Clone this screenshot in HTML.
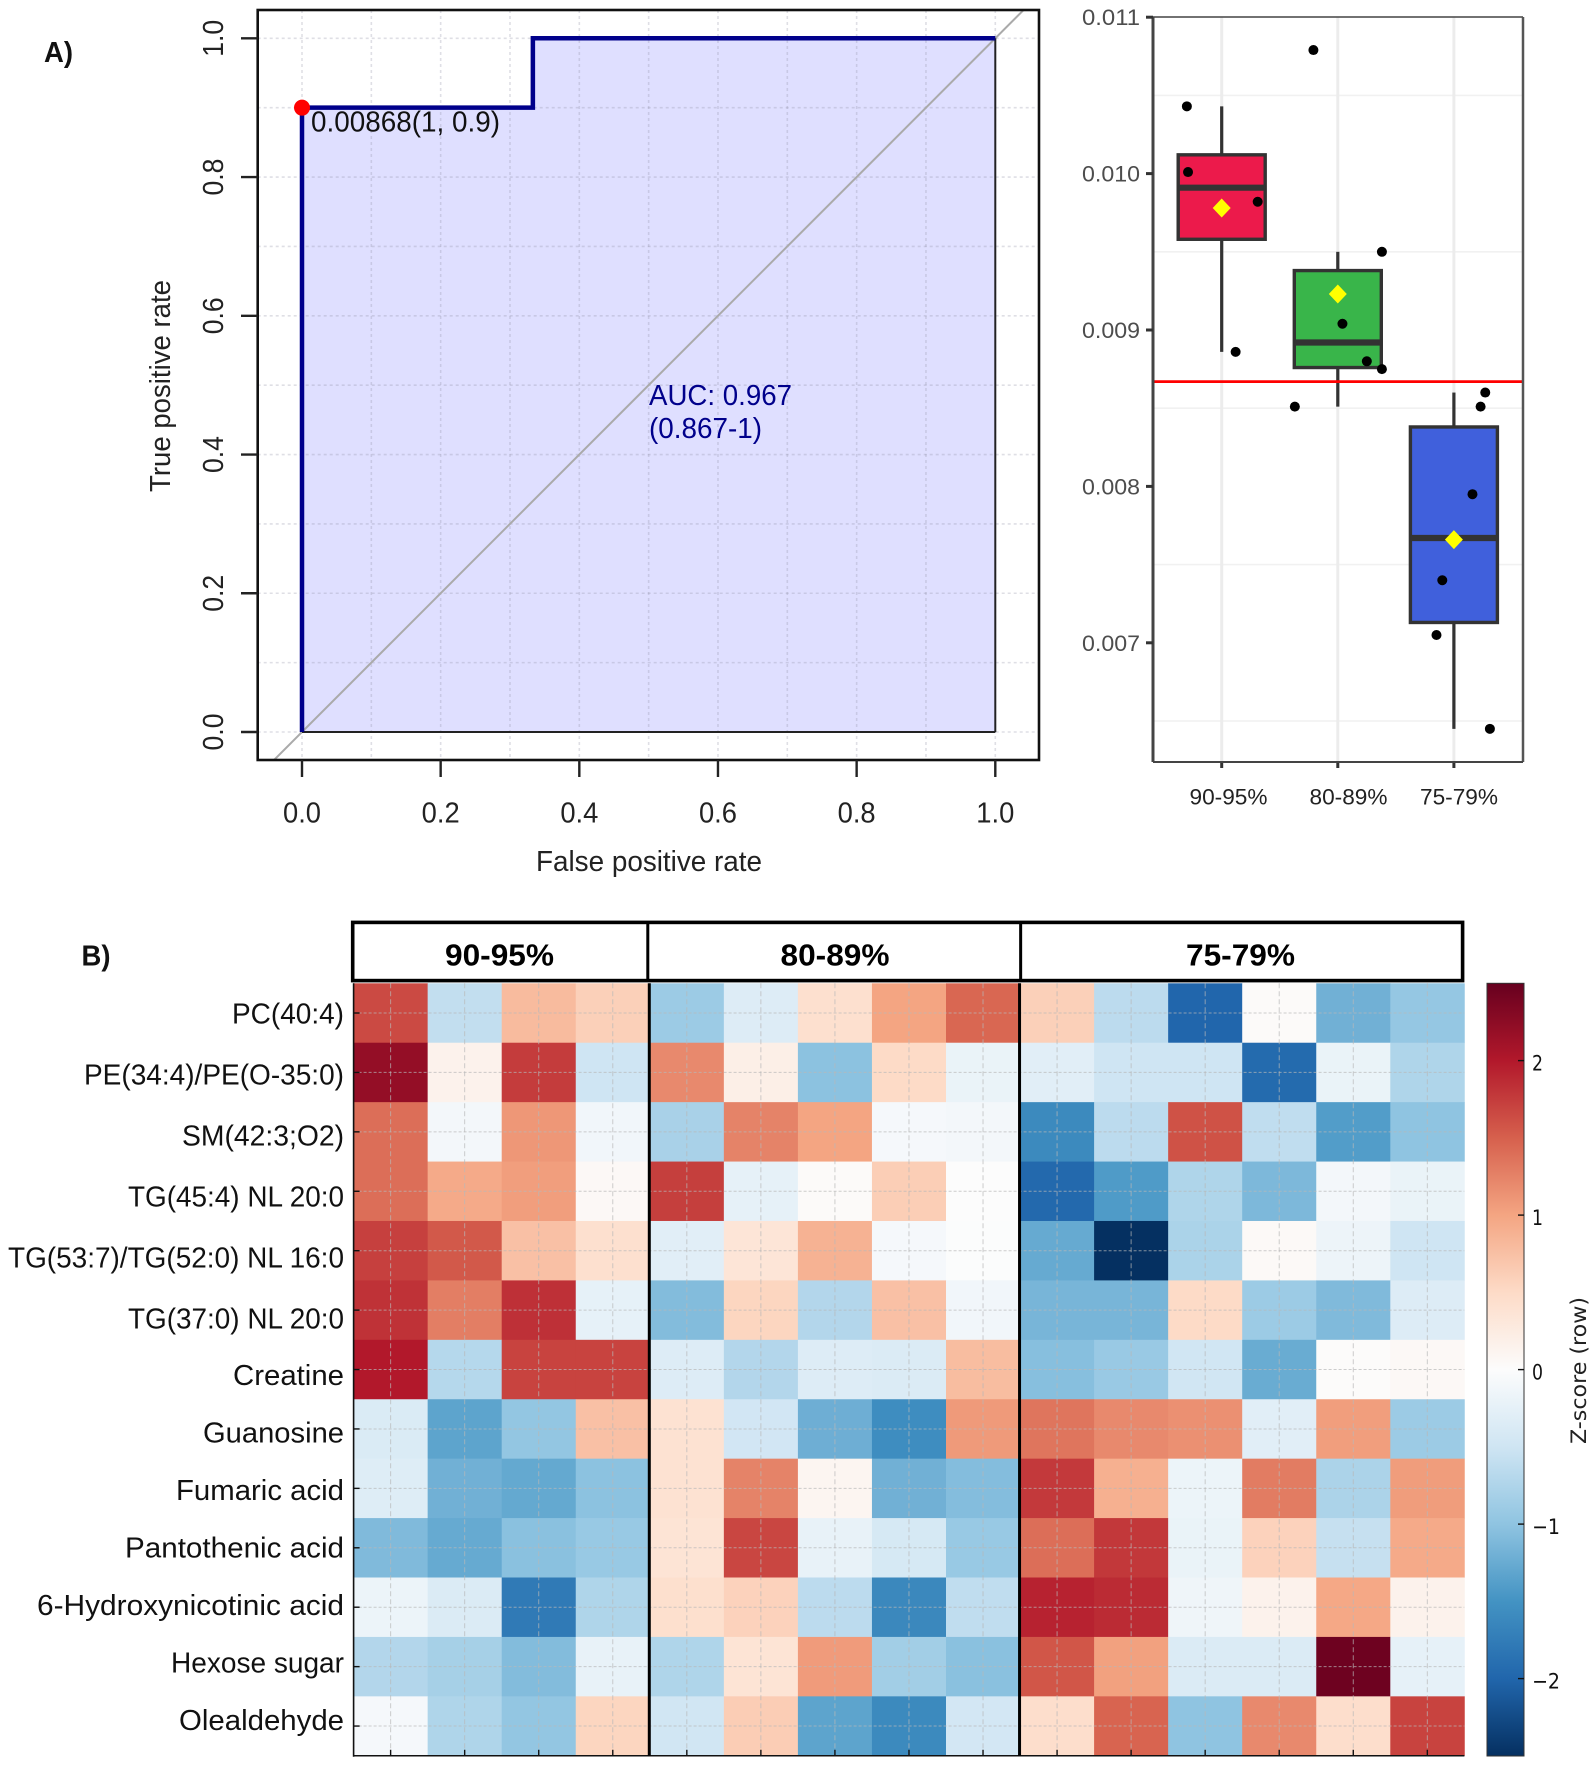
<!DOCTYPE html>
<html lang="en">
<head>
<meta charset="utf-8">
<title>ROC, box plot and heatmap figure</title>
<style>
html,body{margin:0;padding:0;background:#fff;}
svg{display:block;}
text{font-family:"Liberation Sans",sans-serif;}
</style>
</head>
<body>
<svg id="figure" xmlns="http://www.w3.org/2000/svg" width="1595" height="1765" viewBox="0 0 1595 1765">
<defs>
<clipPath id="roc-clip"><rect x="257.7" y="10" width="781.3" height="750"/></clipPath>
<linearGradient id="rdbu-gradient" x1="0" y1="1" x2="0" y2="0"></linearGradient>
</defs>
<rect width="1595" height="1765" fill="#fff"/>
<g id="roc"></g>
<g id="box"></g>
<g id="heat"></g>
</svg>
<script>
// ---------- ROC data ----------
const rocFpr = [0, 0, 0.333, 0.333, 1];
const rocTpr = [0, 0.9, 0.9, 1, 1];
const rocTicks = [0, 0.2, 0.4, 0.6, 0.8, 1];
const rocTickLabels = ['0.0', '0.2', '0.4', '0.6', '0.8', '1.0'];
const rocGrid = [0, 0.1, 0.2, 0.3, 0.4, 0.5, 0.6, 0.7, 0.8, 0.9, 1];
const rocBestFpr = 0;
const rocBestTpr = 0.9;

// ---------- Box plot data ----------
const boxGroups = ['90-95%', '80-89%', '75-79%'];
const boxQ1 = [0.00958, 0.00876, 0.00713];
const boxMedian = [0.00991, 0.00892, 0.00767];
const boxQ3 = [0.01012, 0.00938, 0.00838];
const boxLow = [0.00886, 0.00851, 0.00645];
const boxHigh = [0.01043, 0.00950, 0.00860];
const boxMean = [0.00978, 0.00923, 0.00766];
const boxFills = ['#ec1a4b', '#39b54a', '#4060dc'];
const boxPointValues = [
  [0.01043, 0.01001, 0.00982, 0.00886],
  [0.01079, 0.00950, 0.00904, 0.00880, 0.00875, 0.00851],
  [0.00860, 0.00851, 0.00795, 0.00740, 0.00705, 0.00645]
];
const boxPointJitter = [
  [-0.30, -0.29, 0.31, 0.12],
  [-0.21, 0.38, 0.04, 0.25, 0.38, -0.37],
  [0.27, 0.23, 0.16, -0.10, -0.15, 0.31]
];
const boxThreshold = 0.00867;
const boxTicks = [0.011, 0.010, 0.009, 0.008, 0.007];
const boxTickLabels = ['0.011', '0.010', '0.009', '0.008', '0.007'];
const boxMinorGrid = [0.0105, 0.0095, 0.0085, 0.0075, 0.0065];

// ---------- Heatmap data ----------
const heatRows = ['PC(40:4)', 'PE(34:4)/PE(O-35:0)', 'SM(42:3;O2)', 'TG(45:4) NL 20:0', 'TG(53:7)/TG(52:0) NL 16:0', 'TG(37:0) NL 20:0', 'Creatine', 'Guanosine', 'Fumaric acid', 'Pantothenic acid', '6-Hydroxynicotinic acid', 'Hexose sugar', 'Olealdehyde'];
const heatRowLabelWidths = [112, 260, 162, 216, 336, 216, 111, 141, 168, 219, 307, 173, 165];
const heatGroups = ['90-95%', '80-89%', '75-79%'];
const heatGroupSizes = [4, 5, 6];
const heatValues = [
  [1.65, -0.6, 0.8, 0.6, -0.9, -0.35, 0.42, 1.0, 1.45, 0.6, -0.65, -2.0, 0.03, -1.2, -0.95],
  [2.2, 0.15, 1.75, -0.5, 1.2, 0.2, -1.02, 0.5, -0.2, -0.3, -0.5, -0.5, -1.95, -0.2, -0.75],
  [1.4, -0.1, 1.1, -0.12, -0.8, 1.25, 1.0, -0.08, -0.1, -1.6, -0.65, 1.6, -0.62, -1.4, -1.0],
  [1.4, 0.95, 1.05, 0.06, 1.73, -0.25, 0.03, 0.62, 0, -1.97, -1.42, -0.75, -1.12, -0.1, -0.2],
  [1.72, 1.55, 0.75, 0.42, -0.3, 0.35, 0.88, -0.08, -0.01, -1.27, -2.5, -0.78, 0.05, -0.17, -0.5],
  [1.82, 1.28, 1.83, -0.25, -1.08, 0.55, -0.72, 0.75, -0.12, -1.15, -1.15, 0.5, -0.9, -1.1, -0.35],
  [2.0, -0.7, 1.7, 1.7, -0.35, -0.72, -0.35, -0.37, 0.78, -1.05, -0.92, -0.48, -1.25, 0.02, 0.06],
  [-0.38, -1.33, -0.97, 0.75, 0.4, -0.47, -1.22, -1.57, 1.08, 1.35, 1.2, 1.15, -0.3, 1.05, -0.9],
  [-0.33, -1.2, -1.28, -1.02, 0.4, 1.25, 0.1, -1.2, -1.07, 1.77, 0.9, -0.18, 1.3, -0.77, 1.06],
  [-1.1, -1.27, -1.03, -0.93, 0.37, 1.68, -0.22, -0.42, -0.93, 1.4, 1.78, -0.2, 0.58, -0.57, 0.95],
  [-0.18, -0.37, -1.78, -0.75, 0.43, 0.58, -0.65, -1.62, -0.62, 1.93, 1.87, -0.15, 0.15, 0.97, 0.15],
  [-0.72, -0.82, -1.08, -0.22, -0.75, 0.37, 1.07, -0.85, -1.03, 1.57, 1.03, -0.37, -0.37, 2.45, -0.25],
  [-0.08, -0.75, -0.97, 0.55, -0.48, 0.63, -1.33, -1.6, -0.45, 0.45, 1.47, -1.0, 1.2, 0.45, 1.7]
];
const cbarTicks = [2, 1, 0, -1, -2];
const cbarTickLabels = ['2', '1', '0', '\u22121', '\u22122'];
const rdbuColors = ['#053061', '#2166ac', '#4393c3', '#8fc4e1', '#cfe5f3', '#fcfcfc', '#fddbc7', '#f4a582', '#d6604d', '#b2182b', '#67001f'];
const heatMax = 2.5;

// ---------- Helpers ----------
const NS = 'http://www.w3.org/2000/svg';
function mk(tag, parent, attrs) {
  const el = document.createElementNS(NS, tag);
  for (const k in attrs) el.setAttribute(k, attrs[k]);
  parent.appendChild(el);
  return el;
}
function txt(parent, str, x, y, size, opts) {
  const o = opts || {};
  const attrs = { x: x, y: y, 'font-size': size, fill: o.fill || '#111' };
  attrs['text-anchor'] = o.anchor || 'start';
  if (o.weight) attrs['font-weight'] = o.weight;
  if (o.family) attrs['style'] = 'font-family:' + o.family;
  if (o.len) { attrs['textLength'] = o.len; attrs['lengthAdjust'] = 'spacingAndGlyphs'; }
  if (o.rotate) attrs['transform'] = 'rotate(' + o.rotate + ' ' + x + ' ' + y + ')';
  const el = mk('text', parent, attrs);
  el.textContent = str;
  return el;
}
function hexRgb(h) { return [parseInt(h.slice(1, 3), 16), parseInt(h.slice(3, 5), 16), parseInt(h.slice(5, 7), 16)]; }
function heatColor(v) {
  const t = Math.max(0, Math.min(1, (v + heatMax) / (2 * heatMax))) * (rdbuColors.length - 1);
  const i = Math.min(rdbuColors.length - 2, Math.floor(t));
  const f = t - i;
  const a = hexRgb(rdbuColors[i]);
  const b = hexRgb(rdbuColors[i + 1]);
  return 'rgb(' + [0, 1, 2].map(function (k) { return Math.round(a[k] + (b[k] - a[k]) * f); }).join(',') + ')';
}

// ---------- ROC panel ----------
(function () {
  const root = document.getElementById('roc');
  const X = function (v) { return 302 + v * 693.3; };
  const Y = function (v) { return 732 - v * 693.7; };
  const boxL = 257.7, boxR = 1039, boxT = 10, boxB = 760;

  const panelLabel = txt(root, 'A)', 44, 62, 29, { weight: 'bold', fill: '#111', len: 29 });
  
  

  let pts = X(rocFpr[rocFpr.length - 1]) + ',' + Y(0) + ' ' + X(0) + ',' + Y(0);
  rocFpr.forEach(function (f, i) { pts += ' ' + X(f) + ',' + Y(rocTpr[i]); });
  const area = mk('polygon', root, { points: pts, fill: '#dfdfff' });
  
  

  rocGrid.forEach(function (g) {
    const v = mk('line', root, { x1: X(g), x2: X(g), y1: boxT, y2: boxB, stroke: 'rgb(150,150,170)', 'stroke-opacity': 0.3, 'stroke-width': 1.6, 'stroke-dasharray': '3 3' });
    
    
    const h = mk('line', root, { x1: boxL, x2: boxR, y1: Y(g), y2: Y(g), stroke: 'rgb(150,150,170)', 'stroke-opacity': 0.3, 'stroke-width': 1.6, 'stroke-dasharray': '3 3' });
    
    
  });

  const diag = mk('line', root, { x1: X(-0.1), y1: Y(-0.1), x2: X(1.1), y2: Y(1.1), stroke: '#aaa', 'stroke-width': 2, 'clip-path': 'url(#roc-clip)' });
  
  

  const right = mk('line', root, { x1: X(1), x2: X(1), y1: Y(1), y2: Y(0), stroke: '#222', 'stroke-width': 2 });
  
  
  const bottom = mk('line', root, { x1: X(0), x2: X(1), y1: Y(0), y2: Y(0), stroke: '#222', 'stroke-width': 2 });
  
  

  const curvePts = rocFpr.map(function (f, i) { return X(f) + ',' + Y(rocTpr[i]); }).join(' ');
  const curve = mk('polyline', root, { points: curvePts, fill: 'none', stroke: '#00008b', 'stroke-width': 4.5 });
  
  

  const best = mk('circle', root, { cx: X(rocBestFpr), cy: Y(rocBestTpr), r: 8, fill: '#ff0000' });
  
  

  const frame = mk('rect', root, { x: boxL, y: boxT, width: boxR - boxL, height: boxB - boxT, fill: 'none', stroke: '#111', 'stroke-width': 2.6 });
  
  

  rocTicks.forEach(function (t, i) {
    const xt = mk('line', root, { x1: X(t), x2: X(t), y1: boxB, y2: 777, stroke: '#222', 'stroke-width': 2.4 });
    
    
    const xl = txt(root, rocTickLabels[i], X(t), 822.7, 29, { anchor: 'middle', len: 38, fill: '#222' });
    
    
    const yt = mk('line', root, { x1: 241, x2: boxL, y1: Y(t), y2: Y(t), stroke: '#222', 'stroke-width': 2.4 });
    
    
    const yl = txt(root, rocTickLabels[i], 223, Y(t), 29, { anchor: 'middle', len: 37, rotate: -90, fill: '#222' });
    
    
  });

  const xTitle = txt(root, 'False positive rate', 649, 871, 28.5, { anchor: 'middle', len: 226, fill: '#222' });
  
  
  const yTitle = txt(root, 'True positive rate', 170, 386, 28.5, { anchor: 'middle', len: 212, rotate: -90, fill: '#222' });
  
  

  const bestLabel = txt(root, '0.00868(1, 0.9)', 311, 131.7, 28.5, { len: 189, fill: '#111' });
  
  
  const auc1 = txt(root, 'AUC: 0.967', 649, 405, 28.5, { len: 143, fill: '#00008b' });
  
  
  const auc2 = txt(root, '(0.867-1)', 649, 438, 28.5, { len: 113, fill: '#00008b' });
  
  
})();

// ---------- Box plot panel ----------
(function () {
  const root = document.getElementById('box');
  const Y = function (v) { return 173.6 + (0.010 - v) * 156400; };
  const X = function (c) { return 1221.7 + c * 116.1; };
  const L = 1153, R = 1523, T = 17, B = 762;
  const halfW = 43.5;
  const labelShift = [6.8, 10.7, 5.1];

  boxMinorGrid.forEach(function (g) {
    const l = mk('line', root, { x1: L, x2: R, y1: Y(g), y2: Y(g), stroke: '#f1f1f1', 'stroke-width': 1.6 });
    
    
  });
  boxGroups.forEach(function (g, i) {
    const l = mk('line', root, { x1: X(i), x2: X(i), y1: T, y2: B, stroke: '#ececec', 'stroke-width': 3 });
    
    
  });

  boxGroups.forEach(function (g, i) {
    const cx = X(i);
    const wh = mk('line', root, { x1: cx, x2: cx, y1: Y(boxHigh[i]), y2: Y(boxQ3[i]), stroke: '#333', 'stroke-width': 3.2 });
    
    
    const wl = mk('line', root, { x1: cx, x2: cx, y1: Y(boxQ1[i]), y2: Y(boxLow[i]), stroke: '#333', 'stroke-width': 3.2 });
    
    
    const r = mk('rect', root, { x: cx - halfW, y: Y(boxQ3[i]), width: halfW * 2, height: Y(boxQ1[i]) - Y(boxQ3[i]), fill: boxFills[i], stroke: '#333', 'stroke-width': 3.4 });
    
    
    const m = mk('line', root, { x1: cx - halfW, x2: cx + halfW, y1: Y(boxMedian[i]), y2: Y(boxMedian[i]), stroke: '#333', 'stroke-width': 6.2 });
    
    
    const my = Y(boxMean[i]);
    const d = mk('polygon', root, { points: (cx - 9) + ',' + my + ' ' + cx + ',' + (my - 9.5) + ' ' + (cx + 9) + ',' + my + ' ' + cx + ',' + (my + 9.5), fill: '#ffff00' });
    
    
    boxPointValues[i].forEach(function (v, j) {
      const p = mk('circle', root, { cx: X(i + boxPointJitter[i][j]), cy: Y(v), r: 5, fill: '#000' });
      
      
    });
    const tick = mk('line', root, { x1: cx, x2: cx, y1: B, y2: B + 6, stroke: '#333', 'stroke-width': 3 });
    
    
    const lab = txt(root, g, cx + labelShift[i], 804.5, 22.5, { anchor: 'middle', len: 78, fill: '#222' });
    
    
  });

  const th = mk('line', root, { x1: L, x2: R, y1: Y(boxThreshold), y2: Y(boxThreshold), stroke: '#ff0000', 'stroke-width': 2.8 });
  
  

  const frameTop = mk('line', root, { x1: L, x2: R, y1: T, y2: T, stroke: '#444', 'stroke-width': 1.5 });
  
  
  const frameRight = mk('line', root, { x1: R, x2: R, y1: T, y2: B, stroke: '#555', 'stroke-width': 2.5 });
  
  
  const frameBottom = mk('line', root, { x1: L, x2: R, y1: B, y2: B, stroke: '#444', 'stroke-width': 2 });
  
  
  const frameLeft = mk('line', root, { x1: L, x2: L, y1: T, y2: B, stroke: '#444', 'stroke-width': 3 });
  
  

  boxTicks.forEach(function (t, i) {
    const tk = mk('line', root, { x1: 1146, x2: L, y1: Y(t), y2: Y(t), stroke: '#333', 'stroke-width': 3 });
    
    
    const lb = txt(root, boxTickLabels[i], 1140, Y(t) + 8, 22.5, { anchor: 'end', len: 58, fill: '#4d4d4d' });
    
    
  });
})();

// ---------- Heatmap panel ----------
(function () {
  const root = document.getElementById('heat');
  const L = 353.6, T = 983.3;
  const cw = 74.05, rh = 59.42;
  const nCols = heatValues[0].length;
  const R = L + nCols * cw, B = T + heatRows.length * rh;
  const CX = function (c) { return L + c * cw; };
  const RY = function (r) { return T + r * rh; };

  const panelLabel = txt(root, 'B)', 81.5, 965.7, 29, { weight: 'bold', fill: '#111', len: 29 });
  
  

  heatValues.forEach(function (row, r) {
    row.forEach(function (v, c) {
      const cell = mk('rect', root, { x: CX(c), y: RY(r), width: cw + 0.4, height: rh + 0.4, fill: heatColor(v) });
      
      
    });
  });

  heatRows.forEach(function (name, r) {
    const gl = mk('line', root, { x1: L, x2: R, y1: RY(r + 0.5), y2: RY(r + 0.5), stroke: '#b8b8b8', 'stroke-opacity': 0.7, 'stroke-width': 1, 'stroke-dasharray': '3 2' });
    
    
    const tk = mk('line', root, { x1: L, x2: L + 6, y1: RY(r + 0.5), y2: RY(r + 0.5), stroke: '#111', 'stroke-width': 1.4 });
    
    
    const base = r <= 5 ? 1023.5 + r * 61 : 1385 + (r - 6) * 57.5;
    const lb = txt(root, name, 344, base, 29, { anchor: 'end', len: heatRowLabelWidths[r], fill: '#111' });
    
    
  });
  for (let c = 0; c < nCols; c++) {
    const gl = mk('line', root, { x1: CX(c + 0.5), x2: CX(c + 0.5), y1: T, y2: B, stroke: '#b8b8b8', 'stroke-opacity': 0.7, 'stroke-width': 1, 'stroke-dasharray': '5 3' });
    
    
    const tk = mk('line', root, { x1: CX(c + 0.5), x2: CX(c + 0.5), y1: B - 6, y2: B, stroke: '#111', 'stroke-width': 1.4 });
    
    
  }

  const axisL = mk('line', root, { x1: L, x2: L, y1: T, y2: B + 1, stroke: '#111', 'stroke-width': 1.6 });
  
  
  const axisB = mk('line', root, { x1: L, x2: R, y1: B, y2: B, stroke: '#111', 'stroke-width': 1.6 });
  
  

  const header = mk('rect', root, { x: 352.7, y: 922.4, width: 1462.6 - 352.7, height: 58.2, fill: '#fff', stroke: '#000', 'stroke-width': 3.6 });
  
  

  const headerLabelX = [499.5, 835, 1240.5];
  const headerDividerShift = [-2, 0.6];
  let offset = 0;
  heatGroups.forEach(function (g, i) {
    offset += heatGroupSizes[i];
    if (i < heatGroups.length - 1) {
      const sep = mk('line', root, { x1: CX(offset) - 0.5, x2: CX(offset) - 0.5, y1: T, y2: B, stroke: '#000', 'stroke-width': 3 });
      
      
      const hs = mk('line', root, { x1: CX(offset) + headerDividerShift[i], x2: CX(offset) + headerDividerShift[i], y1: 922.4, y2: 980.6, stroke: '#000', 'stroke-width': 3 });
      
      
    }
    const lb = txt(root, g, headerLabelX[i], 965.5, 31, { anchor: 'middle', weight: 'bold', len: 109, fill: '#000' });
    
    
  });

  // colour bar
  const grad = document.getElementById('rdbu-gradient');
  rdbuColors.forEach(function (col, i) {
    mk('stop', grad, { offset: (i / (rdbuColors.length - 1)), 'stop-color': col });
  });
  const cbL = 1487, cbR = 1524, cbT = 983.3, cbB = 1756;
  const CY = function (v) { return 1369.6 - v * 154.5; };
  const bar = mk('rect', root, { x: cbL, y: cbT, width: cbR - cbL, height: cbB - cbT, fill: 'url(#rdbu-gradient)', stroke: '#333', 'stroke-width': 1 });
  
  
  cbarTicks.forEach(function (t, i) {
    const tk = mk('line', root, { x1: cbR - 6, x2: cbR, y1: CY(t), y2: CY(t), stroke: '#111', 'stroke-width': 1.4 });
    
    
    const lb = txt(root, cbarTickLabels[i], 1532, CY(t) + 10, 21.5, { family: '"DejaVu Sans",sans-serif', fill: '#111', len: t < 0 ? 28 : 11 });
    
    
  });
  const cbTitle = txt(root, 'Z-score (row)', 1586, 1370.5, 21, { family: '"DejaVu Sans",sans-serif', anchor: 'middle', len: 147, rotate: -90, fill: '#222' });
  
  
})();
</script>
</body>
</html>
